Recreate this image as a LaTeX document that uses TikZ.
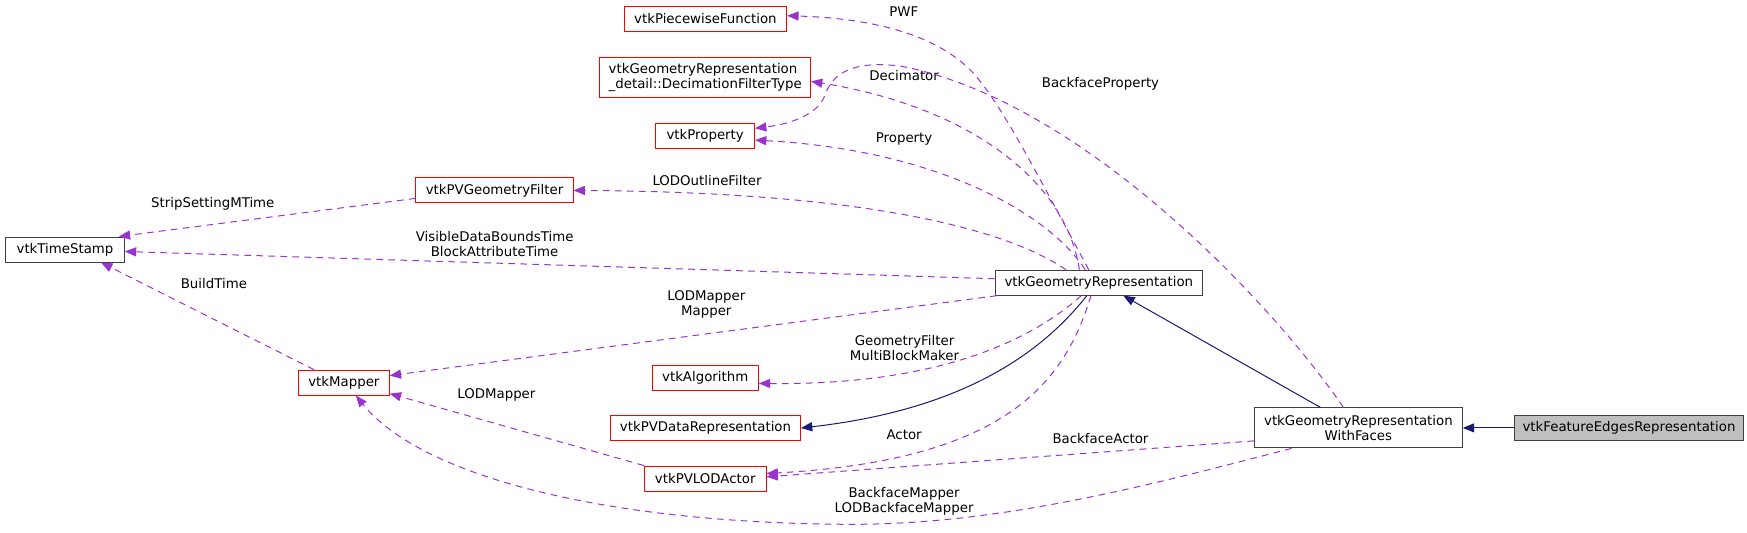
\documentclass[tikz,border=0pt]{standalone}
\usepackage{fontspec}
\setmainfont{DejaVu Sans}
\usetikzlibrary{calc,arrows.meta}
\definecolor{boxgray}{HTML}{404040}
\definecolor{navy}{HTML}{191970}
\definecolor{orchid}{HTML}{9A32CD}
\definecolor{fillgray}{HTML}{BFBFBF}
\begin{document}
\begin{tikzpicture}[x=0.75pt, y=-0.75pt,
  every node/.style={font=\fontsize{10pt}{11.25pt}\selectfont},
  cls/.style={draw=boxgray, line width=0.75pt, inner sep=0pt, minimum height=18.75pt, align=center},
  undoc/.style={cls, draw=red},
  inh/.style={-{Triangle[length=8.5pt,width=6.8pt]}, navy, line width=0.75pt},
  use/.style={-{Triangle[length=8.5pt,width=6.8pt]}, orchid, line width=0.75pt, dash pattern=on 5pt off 4pt},
  lbl/.style={align=center, inner sep=0pt}]
  \useasboundingbox (0,0) rectangle (1747,532);
  % classes
  \node[cls, minimum width=89pt] (ts) at (65,249.5) {vtkTimeStamp};
  \node[undoc, minimum width=117.8pt] (pvgf) at (494.5,190.4) {vtkPVGeometryFilter};
  \node[undoc, minimum width=68pt] (mapper) at (343.9,382.6) {vtkMapper};
  \node[undoc, minimum width=122pt] (pwf) at (705.4,18.7) {vtkPiecewiseFunction};
  \node[undoc, minimum width=157.9pt, minimum height=30pt, align=left] (decim) at (705.2,77.6)
    {vtkGeometryRepresentation\\\_detail::DecimationFilterType};
  \node[undoc, minimum width=74pt] (prop) at (705.2,135.8) {vtkProperty};
  \node[undoc, minimum width=79.7pt] (algo) at (705.2,377.5) {vtkAlgorithm};
  \node[undoc, minimum width=142.4pt] (pvdr) at (705.5,428) {vtkPVDataRepresentation};
  \node[undoc, minimum width=91.3pt] (lodactor) at (705.2,478.5) {vtkPVLODActor};
  \node[cls, minimum width=155.4pt] (gr) at (1098.8,282.7) {vtkGeometryRepresentation};
  \node[cls, minimum width=155.9pt, minimum height=30pt] (grwf) at (1358.4,427.9)
    {vtkGeometryRepresentation\\WithFaces};
  \node[cls, fill=fillgray, minimum width=172.3pt] (fer) at (1629,427.9) {vtkFeatureEdgesRepresentation};
  % inheritance
  \draw[inh] (fer) -- (grwf);
  \draw[inh] ($(grwf.north)+(-38,0)$) -- ($(gr.south)+(24.6,0)$);
  \draw[inh] ($(gr.south)+(-12,0)$) .. controls (1040,355) and (960,410) .. (pvdr.east);
  % members
  \draw[use] ($(gr.north)+(-10,0)$) .. controls (1040,180) and (1005,110) .. (975,75)
    .. controls (935,30) and (860,18) .. ($(pwf.east)+(0,-3)$);
  \node[lbl] (l-pwf) at (903.8,11.9) {PWF};
  \draw[use] ($(gr.north)+(-19.4,0)$) .. controls (1065,175) and (960,105) .. ($(decim.east)+(0,3.8)$);
  \node[lbl] (l-decim) at (904.1,75.3) {Decimator};
  \draw[use] ($(grwf.north)+(-15,0)$) .. controls (1270,300) and (1080,100) .. (900,66)
    .. controls (850,60) and (832,75) .. (825,95)
    .. controls (818,115) and (790,124) .. ($(prop.east)+(0,-7.5)$);
  \node[lbl] (l-bprop) at (1100.5,83.5) {BackfaceProperty};
  \draw[use] ($(gr.north)+(-13.6,0)$) .. controls (1050,215) and (940,150) .. ($(prop.east)+(0,4.3)$);
  \node[lbl] (l-prop) at (904.1,138.8) {Property};
  \draw[use] ($(gr.north)+(-32.8,0)$) .. controls (1000,225) and (850,192) .. (pvgf.east);
  \node[lbl] (l-outline) at (707,180.5) {LODOutlineFilter};
  \draw[use] ($(gr.west)+(0,-4)$) -- ($(ts.east)+(0,2)$);
  \node[lbl] (l-bounds) at (494.6,244) {VisibleDataBoundsTime\\BlockAttributeTime};
  \draw[use] ($(pvgf.west)+(0,8)$) -- ($(ts.north east)+(-6,0)$);
  \node[lbl] (l-strip) at (212.8,203.6) {StripSettingMTime};
  \draw[use] ($(mapper.north)+(-30,0)$) -- ($(ts.south)+(36,0)$);
  \node[lbl] (l-build) at (213.9,283.3) {BuildTime};
  \draw[use] ($(gr.south west)+(2,0)$) -- ($(mapper.east)+(0,-7)$);
  \node[lbl] (l-mapper) at (706.3,304.2) {LODMapper\\Mapper};
  \draw[use] ($(gr.south)+(-17.5,0)$) .. controls (1020,350) and (920,385) .. ($(algo.east)+(0,5.9)$);
  \node[lbl] (l-algo) at (904.5,347.8) {GeometryFilter\\MultiBlockMaker};
  \draw[use] ($(gr.south)+(-7.8,0)$) .. controls (1065,380) and (1010,460) .. ($(lodactor.east)+(0,-5)$);
  \node[lbl] (l-actor) at (904.1,434.3) {Actor};
  \draw[use] (lodactor.north west) -- ($(mapper.south east)+(0,-2)$);
  \node[lbl] (l-lodmapper) at (496.4,394.6) {LODMapper};
  \draw[use] ($(grwf.west)+(0,13)$) -- ($(lodactor.east)+(0,-1.7)$);
  \node[lbl] (l-bactor) at (1100.5,438.4) {BackfaceActor};
  \draw[use] ($(grwf.south)+(-66.8,0)$) .. controls (1150,485) and (1000,525) .. (848,524.3)
    .. controls (600,523) and (420,475) .. ($(mapper.south)+(12,0)$);
  \node[lbl] (l-bmapper) at (904.1,501.5) {BackfaceMapper\\LODBackfaceMapper};
\end{tikzpicture}
\end{document}
